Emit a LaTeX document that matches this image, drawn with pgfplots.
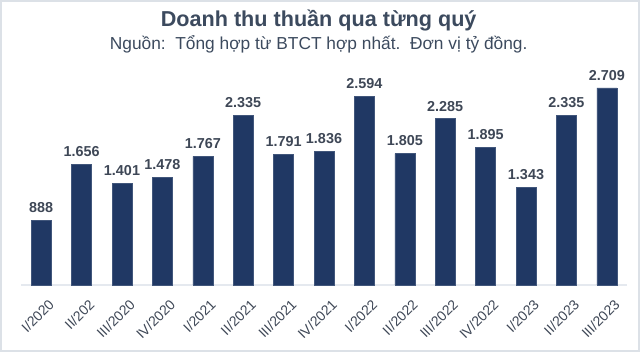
\documentclass[border=0pt]{standalone}
\usepackage{pgfplots}
\pgfplotsset{compat=1.18}
\usepackage{fontspec}
\setmainfont{Liberation Sans}
\definecolor{barc}{HTML}{203864}
\definecolor{titc}{HTML}{3C4A5E}
\definecolor{labc}{HTML}{3E4756}
\definecolor{gridc}{HTML}{E9EDF2}
\definecolor{framec}{HTML}{DCE1E7}
\begin{document}
\begin{tikzpicture}
\useasboundingbox (0pt,0pt) rectangle (480pt,264pt);
\draw[framec, line width=1.2pt] (0.6pt,0.6pt) rectangle (479.4pt,263.4pt);
\node[font=\bfseries\fontsize{16.2}{18}\selectfont, text=titc, anchor=base] at (239pt,243.75pt) {Doanh thu thuần qua từng quý};
\node[font=\fontsize{13}{15}\selectfont, text=titc, anchor=base] at (239pt,226.5pt) {Nguồn:\ \ Tổng hợp từ BTCT hợp nhất.\ \ Đơn vị tỷ đồng.};
\begin{axis}[
  at={(15.75pt,50.25pt)}, anchor=south west,
  scale only axis, width=454.5pt, height=163.7pt,
  xmin=-0.5, xmax=14.5, ymin=0, ymax=3000,
  ytick={0,500,...,3000}, yticklabels={},
  ymajorgrids, grid style={gridc, line width=0.8pt},
  axis x line=bottom, axis y line=none,
  x axis line style={draw=gridc!120, line width=0.8pt, -},
  major tick length=0pt,
  xtick=data,
  xticklabels={I/2020,II/202,III/2020,IV/2020,I/2021,II/2021,III/2021,IV/2021,I/2022,II/2022,III/2022,IV/2022,I/2023,II/2023,III/2023},
  xticklabel style={rotate=45, anchor=north east, font=\fontsize{10.5}{12}\selectfont, text=labc, inner sep=1pt, xshift=-2.5pt, yshift=-9.5pt},
  ybar, bar width=15pt,
  point meta=explicit symbolic,
  nodes near coords={\pgfplotspointmeta},
  every node near coord/.style={font=\bfseries\fontsize{10.8}{12}\selectfont, text=labc, inner sep=2pt, yshift=3.5pt},
  clip=false,
]
\addplot[fill=barc, draw=barc!85!white, line width=0.4pt] table[x=x, y=y, meta=l] {
x y l
0 888 888
1 1656 1.656
2 1401 1.401
3 1478 1.478
4 1767 1.767
5 2335 2.335
6 1791 1.791
7 1836 1.836
8 2594 2.594
9 1805 1.805
10 2285 2.285
11 1895 1.895
12 1343 1.343
13 2335 2.335
14 2709 2.709
};
\end{axis}
\end{tikzpicture}
\end{document}
